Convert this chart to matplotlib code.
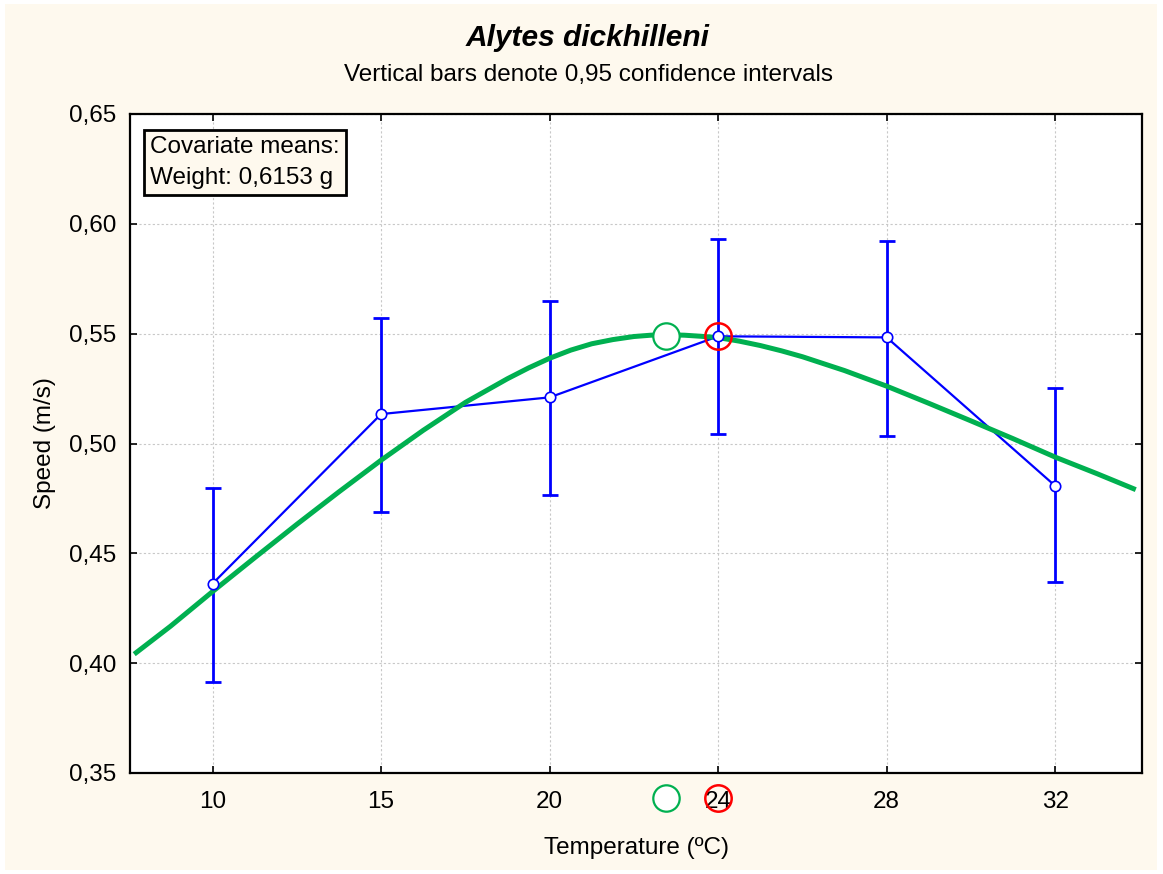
import matplotlib
matplotlib.use("Agg")
import matplotlib.pyplot as plt
from matplotlib.patches import Rectangle
from matplotlib.ticker import FuncFormatter, MultipleLocator
import matplotlib.transforms as mtransforms

plt.rcParams['font.family'] = ['Liberation Sans', 'DejaVu Sans']

# Temperature groups (categorical positions 0..5)
temp_labels = ["10", "15", "20", "24", "28", "32"]
speed_mean = [0.4362, 0.5134, 0.5210, 0.5488, 0.5483, 0.4807]
ci_low = [0.3914, 0.4688, 0.4766, 0.5045, 0.5035, 0.4368]
ci_high = [0.4798, 0.5571, 0.5650, 0.5931, 0.5920, 0.5251]

# Fitted performance curve (position on the temperature axis, speed)
curve_pos = [-0.465, -0.25, 0.0, 0.25, 0.5, 0.75, 1.0, 1.25, 1.5, 1.75, 1.875,
             2.0, 2.125, 2.25, 2.375, 2.5, 2.6, 2.69, 2.8, 2.9, 3.0, 3.125,
             3.25, 3.375, 3.5, 3.75, 4.0, 4.25, 4.5, 4.75, 5.0, 5.25, 5.478]
curve_speed = [0.4041, 0.4168, 0.4326, 0.4480, 0.4632, 0.4780, 0.4924, 0.5060,
               0.5187, 0.5295, 0.5344, 0.5388, 0.5425, 0.5454, 0.5473, 0.5487,
               0.5493, 0.5495, 0.5493, 0.5488, 0.5482, 0.5466, 0.5446, 0.5422,
               0.5395, 0.5332, 0.5261, 0.5183, 0.5103, 0.5022, 0.4938, 0.4862,
               0.4790]

# Optimum temperature (fitted curve) and best observed group
opt_pos, opt_speed = 2.69, 0.5488
best_pos, best_speed = 3, 0.5488

cream = "#FEF9EE"
blue = "#0000FF"
green = "#00B050"
red = "#FF0000"

fig = plt.figure(figsize=(11.63, 8.74), dpi=100, facecolor="white")
fig.patches.append(Rectangle((5 / 1163, 4 / 874), 1152 / 1163, 866 / 874,
                             transform=fig.transFigure, facecolor=cream,
                             edgecolor="none", zorder=-10))

ax = fig.add_axes([130 / 1163, 101 / 874, 1012 / 1163, 659 / 874])
ax.set_facecolor("white")

x = list(range(len(temp_labels)))
yerr = [[m - lo for m, lo in zip(speed_mean, ci_low)],
        [hi - m for m, hi in zip(speed_mean, ci_high)]]

ax.errorbar(x, speed_mean, yerr=yerr, fmt="none", ecolor=blue, elinewidth=2.0,
            capsize=6, capthick=2.0, zorder=3)
ax.plot(x, speed_mean, color=blue, lw=1.6, zorder=3)
ax.plot(curve_pos, curve_speed, color=green, lw=3.6, solid_capstyle="butt",
        solid_joinstyle="round", zorder=4)
ax.plot(x, speed_mean, linestyle="none", marker="o", markersize=7.5,
        markerfacecolor="white", markeredgecolor=blue, markeredgewidth=1.2, zorder=5)

ax.plot([opt_pos], [opt_speed], marker="o", markersize=19, markerfacecolor="white",
        markeredgecolor=green, markeredgewidth=1.6, linestyle="none", zorder=6)
ax.plot([best_pos], [best_speed], marker="o", markersize=19, markerfacecolor="none",
        markeredgecolor=red, markeredgewidth=1.8, linestyle="none", zorder=7)

# Same markers repeated below the axis, beside the tick labels
trans = mtransforms.blended_transform_factory(ax.transData, ax.transAxes)
ax.plot([opt_pos], [-0.038], transform=trans, marker="o", markersize=19,
        markerfacecolor="white", markeredgecolor=green, markeredgewidth=1.6,
        linestyle="none", clip_on=False, zorder=6)
ax.plot([best_pos], [-0.038], transform=trans, marker="o", markersize=19,
        markerfacecolor="none", markeredgecolor=red, markeredgewidth=1.8,
        linestyle="none", clip_on=False, zorder=7)

ax.set_xlim(-0.49, 5.515)
ax.set_ylim(0.35, 0.65)
ax.set_xticks(x)
ax.set_xticklabels(temp_labels)
ax.yaxis.set_major_locator(MultipleLocator(0.05))
ax.yaxis.set_major_formatter(FuncFormatter(lambda v, p: f"{v:.2f}".replace(".", ",")))

ax.grid(True, color="#C8C8C8", linestyle=(0, (2, 2)), linewidth=0.8)
ax.set_axisbelow(True)
for s in ax.spines.values():
    s.set_linewidth(1.6)
    s.set_color("black")

ax.tick_params(axis="both", direction="in", length=5, width=1.2, labelsize=17.5,
               top=True, right=True, colors="black")
ax.tick_params(axis="x", pad=13)
ax.tick_params(axis="y", pad=10)

ax.set_xlabel("Temperature (ºC)", fontsize=17.5, labelpad=17)
ax.set_ylabel("Speed (m/s)", fontsize=17.5, labelpad=9)

title_x = 588 / 1163
fig.text(title_x, 1 - 38 / 874, "Alytes dickhilleni", ha="center",
         va="center", fontsize=21.5, fontweight="bold", fontstyle="italic")
fig.text(title_x, 1 - 75 / 874,
         "Vertical bars denote 0,95 confidence intervals", ha="center", va="center",
         fontsize=17.5)

ax.text(20 / 1012, (773 - 136) / 659, "Covariate means:\nWeight: 0,6153 g",
        transform=ax.transAxes, ha="left", va="top", fontsize=17.5, linespacing=1.55,
        bbox=dict(boxstyle="square,pad=0.25", facecolor=cream, edgecolor="black",
                  linewidth=2.0), zorder=8)

fig.savefig("out.png", dpi=100, facecolor="white")
